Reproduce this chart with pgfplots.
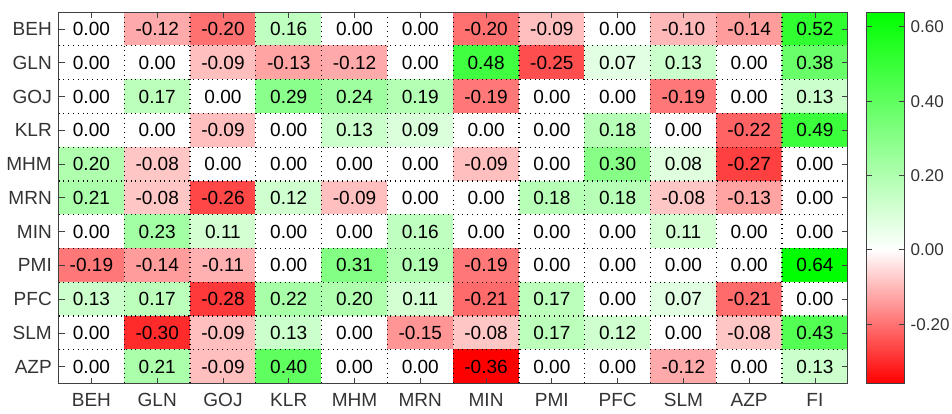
\documentclass[border=0pt]{standalone}
\usepackage{pgfplots}
\pgfplotsset{compat=1.18}
\usepackage{fontspec}
\setmainfont{Liberation Sans}
\begin{document}
\fontsize{9.5}{11}\selectfont
\begin{tikzpicture}
\begin{axis}[
  name=main,
  scale only axis, width=394pt, height=185.5pt,
  xmin=-0.5, xmax=11.5, ymin=-0.5, ymax=10.5, y dir=reverse,
  xtick={0,...,11}, xticklabels={BEH,GLN,GOJ,KLR,MHM,MRN,MIN,PMI,PFC,SLM,AZP,FI},
  ytick={0,...,10}, yticklabels={BEH,GLN,GOJ,KLR,MHM,MRN,MIN,PMI,PFC,SLM,AZP},
  minor xtick={0.5,1.5,...,10.5}, minor ytick={0.5,1.5,...,9.5},
  minor tick length=0pt, xminorgrids, yminorgrids,
  minor grid style={black, dotted, line width=0.6pt},
  tick align=inside, major tick length=3pt,
  axis line style={black!75}, every tick/.style={black!75},
  ticklabel style={text=black!80, font=\fontsize{9.5}{11}\selectfont},
  xticklabel style={yshift=-1.5pt},
  axis on top,
  colormap={rwg}{rgb255(0cm)=(255,0,0) rgb255(36cm)=(255,255,255) rgb255(100cm)=(0,255,0)},
  point meta min=-0.36, point meta max=0.64,
  colorbar,
  colorbar/width=18.5pt,
  colorbar shift/.style={xshift=9.5pt},
  colorbar style={
    name=cb,
    scale only axis,
    at={(parent axis.north east)}, anchor=north west,
    width=18.5pt, height=185.5pt,
    ytick={-0.2,0,0.2,0.4,0.6},
    yticklabel={\pgfmathprintnumber[fixed,fixed zerofill,precision=2,assume math mode=true]{\tick}},
    tick align=inside, major tick length=2.5pt,
    axis line style={black!75}, every tick/.style={black!75},
    ticklabel style={text=black!80, font=\fontsize{8.5}{10}\selectfont},
  },
]
\addplot[matrix plot*, mesh/cols=12, point meta=explicit,
  nodes near coords={\pgfmathprintnumber[fixed,fixed zerofill,precision=2,assume math mode=true]{\pgfplotspointmeta}},
  nodes near coords align=center,
  every node near coord/.append style={anchor=center, text=black, font=\fontsize{9.5}{11}\selectfont},
] table[meta=c] {
x y c
0 0 0.00
1 0 -0.12
2 0 -0.20
3 0 0.16
4 0 0.00
5 0 0.00
6 0 -0.20
7 0 -0.09
8 0 0.00
9 0 -0.10
10 0 -0.14
11 0 0.52
0 1 0.00
1 1 0.00
2 1 -0.09
3 1 -0.13
4 1 -0.12
5 1 0.00
6 1 0.48
7 1 -0.25
8 1 0.07
9 1 0.13
10 1 0.00
11 1 0.38
0 2 0.00
1 2 0.17
2 2 0.00
3 2 0.29
4 2 0.24
5 2 0.19
6 2 -0.19
7 2 0.00
8 2 0.00
9 2 -0.19
10 2 0.00
11 2 0.13
0 3 0.00
1 3 0.00
2 3 -0.09
3 3 0.00
4 3 0.13
5 3 0.09
6 3 0.00
7 3 0.00
8 3 0.18
9 3 0.00
10 3 -0.22
11 3 0.49
0 4 0.20
1 4 -0.08
2 4 0.00
3 4 0.00
4 4 0.00
5 4 0.00
6 4 -0.09
7 4 0.00
8 4 0.30
9 4 0.08
10 4 -0.27
11 4 0.00
0 5 0.21
1 5 -0.08
2 5 -0.26
3 5 0.12
4 5 -0.09
5 5 0.00
6 5 0.00
7 5 0.18
8 5 0.18
9 5 -0.08
10 5 -0.13
11 5 0.00
0 6 0.00
1 6 0.23
2 6 0.11
3 6 0.00
4 6 0.00
5 6 0.16
6 6 0.00
7 6 0.00
8 6 0.00
9 6 0.11
10 6 0.00
11 6 0.00
0 7 -0.19
1 7 -0.14
2 7 -0.11
3 7 0.00
4 7 0.31
5 7 0.19
6 7 -0.19
7 7 0.00
8 7 0.00
9 7 0.00
10 7 0.00
11 7 0.64
0 8 0.13
1 8 0.17
2 8 -0.28
3 8 0.22
4 8 0.20
5 8 0.11
6 8 -0.21
7 8 0.17
8 8 0.00
9 8 0.07
10 8 -0.21
11 8 0.00
0 9 0.00
1 9 -0.30
2 9 -0.09
3 9 0.13
4 9 0.00
5 9 -0.15
6 9 -0.08
7 9 0.17
8 9 0.12
9 9 0.00
10 9 -0.08
11 9 0.43
0 10 0.00
1 10 0.21
2 10 -0.09
3 10 0.40
4 10 0.00
5 10 0.00
6 10 -0.36
7 10 0.00
8 10 0.00
9 10 -0.12
10 10 0.00
11 10 0.13
};
\end{axis}
\coordinate (tl) at ([yshift=6pt]main.north west);
\coordinate (br) at ([xshift=24pt]cb.south east);
\pgfresetboundingbox
\path (main.outer west |- tl) rectangle (br |- main.outer south);
\end{tikzpicture}
\end{document}
